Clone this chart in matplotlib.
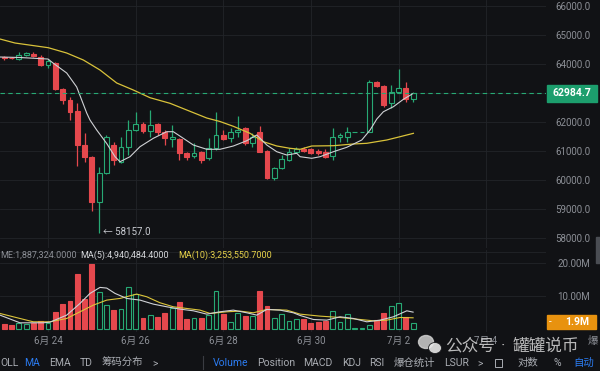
import numpy as np
import pandas as pd
import matplotlib
matplotlib.use("Agg")
import matplotlib.pyplot as plt
from matplotlib.patches import Rectangle, Ellipse

plt.rcParams['font.family'] = ['Roboto', 'Noto Sans CJK SC', 'DejaVu Sans']

#---------------------------------------#
# DATA  (4h candles starting 6/23 00:00)
#---------------------------------------#
start_time = pd.Timestamp("2024-06-23 00:00")
candle_step = pd.Timedelta(hours=4)

opens = [64230, 64210, 64165, 64310, 64345, 64230, 63966, 64025, 63140, 62760,
         62380, 61207, 60793, 59250, 60240, 61207, 60630, 61130, 61720, 61920,
         61700, 61920, 61665, 61410, 61400, 60940, 60830, 60980, 60750, 61095,
         61550, 61440, 61640, 61780, 61265, 61645, 61015, 60060, 60405, 60690,
         60980, 61070, 61060, 61000, 60950, 60820, 61490, 61500, 61665, 61665,
         61670, 63380, 63240, 62650, 63050, 63170, 62800]
highs = [64280, 64240, 64425, 64400, 64420, 64300, 64160, 64060, 63170, 62870,
         62655, 61620, 60830, 60450, 61560, 61320, 61490, 62070, 62355, 62010,
         62415, 61950, 61720, 61900, 61450, 60960, 61270, 61000, 61440, 62355,
         61725, 61780, 62210, 61840, 61620, 61860, 61040, 60440, 60860, 61095,
         61150, 61150, 61100, 61060, 61070, 61790, 61610, 61840, 61665, 61665,
         63450, 63430, 63260, 63280, 63820, 63390, 63000]
lows = [64150, 64170, 64140, 64290, 64240, 63940, 63850, 63110, 62620, 62070,
        60483, 60630, 58940, 58157, 60200, 60520, 60600, 60860, 61700, 61610,
        61490, 61550, 61210, 61150, 60690, 60690, 60750, 60590, 60690, 61050,
        61380, 61320, 61490, 61200, 61150, 60950, 60040, 60000, 60380, 60660,
        60950, 60950, 60880, 60860, 60760, 60690, 61320, 61320, 61665, 61665,
        61640, 63220, 62530, 62470, 63010, 62700, 62700]
closes = [64190, 64190, 64310, 64370, 64260, 63966, 64100, 63130, 62760, 62355,
          61207, 60783, 59250, 60230, 61490, 60690, 61130, 61720, 61920, 61700,
          61900, 61665, 61460, 61490, 60940, 60800, 60940, 60700, 61095, 61550,
          61410, 61645, 61725, 61265, 61470, 60980, 60060, 60405, 60715, 60980,
          61060, 60990, 60920, 60920, 60800, 61500, 61550, 61670, 61665, 61665,
          63380, 63240, 62590, 63050, 63170, 62800, 62984.7]
# volume in millions
volumes = [1.6, 1.35, 1.85, 1.6, 1.85, 2.5, 1.85, 5.1, 7.5, 8.5,
           16.6, 9.1, 19.5, 11.1, 7.3, 5.8, 6.1, 12.6, 10.5, 3.3,
           4.3, 3.8, 5.0, 6.5, 8.1, 3.1, 3.3, 3.3, 4.3, 11.5,
           4.5, 2.3, 5.0, 4.1, 4.0, 11.5, 7.0, 3.5, 4.5, 2.6,
           3.1, 3.0, 2.0, 2.3, 2.6, 5.5, 2.3, 4.5, 0.35, 0.35,
           1.35, 2.8, 4.8, 7.0, 8.0, 3.6, 1.887]

# moving average lines (candle position, value)
ma_fast_x = [-0.58, 2.16, 6.0, 6.68, 8.56, 9.93, 11.3, 11.75, 12.67, 14.04,
             15.18, 15.86, 17.23, 18.6, 20.42, 22.26, 23.16, 24.53, 25.9, 27.74,
             29.56, 31.38, 33.22, 34.59, 35.96, 37.33, 38.7, 40.07, 40.52, 42.12,
             43.26, 45.08, 46.92, 48.97, 50.11, 51.03, 51.93, 53.3, 54.67, 56.04]
ma_fast = [64241, 64224, 64172, 64035, 63690, 63207, 62310, 62069, 61724, 61259,
           60804, 60631, 60804, 61149, 61438, 61666, 61666, 61438, 61207, 61059,
           61059, 61173, 61355, 61552, 61207, 60976, 60862, 60921, 60804, 60749,
           60804, 60976, 61128, 61380, 61724, 62104, 62355, 62528, 62783, 62990]
ma_slow_x = [-0.58, 1.48, 6.04, 8.56, 10.84, 13.12, 15.41, 17.68, 19.97, 22.71,
             25.0, 27.74, 29.56, 31.38, 33.67, 35.49, 37.33, 39.15, 40.52, 42.12,
             45.08, 47.82, 49.66, 52.4, 54.22, 56.04]
ma_slow = [64862, 64724, 64562, 64379, 64138, 63793, 63345, 63104, 62838, 62645,
           62414, 62138, 62017, 61852, 61610, 61321, 61173, 61093, 61059, 61173,
           61183, 61242, 61266, 61380, 61494, 61610]

vol_ma5_x = [-0.58, 2.16, 5.32, 6.27, 8.56, 10.38, 11.75, 13.12, 14.04, 15.18,
             16.78, 18.6, 20.42, 22.26, 24.08, 25.9, 27.74, 29.56, 31.38, 33.22,
             34.59, 35.96, 37.78, 39.6, 40.52, 42.34, 44.18, 46.0, 47.82, 49.66,
             51.48, 53.3, 55.14, 56.0]
vol_ma5 = [4.3, 2.0, 2.0, 2.2, 4.3, 7.8, 10.8, 12.6, 12.4, 10.8,
           9.3, 8.8, 7.6, 6.8, 6.1, 5.6, 4.6, 5.3, 5.8, 5.0,
           4.3, 6.0, 5.8, 5.0, 4.2, 3.0, 2.8, 3.8, 3.3, 2.3,
           2.8, 3.8, 5.6, 5.2]
vol_ma10_x = [-0.58, 2.16, 3.99, 6.27, 8.56, 10.38, 12.21, 14.04, 15.86, 18.15,
              19.52, 21.34, 23.16, 25.0, 26.82, 28.19, 30.48, 32.3, 34.12, 35.96,
              38.7, 40.52, 43.26, 46.0, 48.74, 50.56, 52.4, 54.22, 56.0]
vol_ma10 = [4.8, 3.3, 2.3, 2.3, 3.3, 5.3, 7.3, 8.8, 9.3, 10.6,
            9.8, 8.0, 6.8, 6.3, 5.8, 4.8, 5.3, 5.5, 5.0, 6.0,
            5.8, 4.6, 4.0, 3.6, 3.0, 2.6, 2.8, 3.6, 3.5]

price_ticks = [58000, 59000, 60000, 61000, 62000, 63000, 64000, 65000, 66000]
volume_ticks = [10, 20]
date_ticks = ["2024-06-24", "2024-06-26", "2024-06-28", "2024-06-30", "2024-07-02", "2024-07-04"]
date_labels = ["6月 24", "6月 26", "6月 28", "6月 30", "7月 2", "7月 4"]
last_price = 62984.7
low_mark = 58157.0

#---------------------------------------#
# STYLE
#---------------------------------------#
BG = '#111215'
GRID = '#222429'
RED = '#e5484d'
GREEN = '#27a974'
AXTXT = '#8c8f96'
W = 600
H = 371


# pixel -> figure fraction helpers
def fx(x):
    return x / W


def fy(y):
    return 1 - y / H


fig = plt.figure(figsize=(6, 3.71), dpi=100, facecolor=BG)
ax = fig.add_axes([0, fy(248), 546 / W, 248 / H], facecolor=BG)
axv = fig.add_axes([0, fy(332), 546 / W, 82 / H], facecolor=BG, sharex=ax)

idx = np.arange(len(opens))
o = np.array(opens)
hi = np.array(highs)
lo = np.array(lows)
c = np.array(closes)
up = c >= o
cols = np.where(up, GREEN, RED)

# date ticks as candle positions
tick_pos = [(pd.Timestamp(d) - start_time) / candle_step for d in date_ticks]

#---------------------------------------#
# PRICE PANEL
#---------------------------------------#
ax.vlines(idx, lo, hi, colors=cols, lw=0.9, zorder=2)
ax.bar(idx, np.abs(c - o), width=0.66, bottom=np.minimum(o, c),
       color=np.where(up, BG, RED), edgecolor=cols, linewidth=0.8, zorder=3)
ax.plot(ma_slow_x, ma_slow, color='#d9c23a', lw=0.9, zorder=4)
ax.plot(ma_fast_x, ma_fast, color='#cfd1d4', lw=0.8, zorder=4)
ax.axhline(last_price, color=GREEN, lw=0.8, ls=(0, (4, 3)), zorder=5)

ax.set_xlim(-0.575, 74.2)
ax.set_ylim(57656, 66207)
ax.set_yticks(price_ticks)
# the 63000 label sits under the last-price box
ax.set_yticklabels(["" if abs(p - last_price) < 500 else f"{p:.1f}" for p in price_ticks])
ax.set_xticks(tick_pos)
ax.yaxis.tick_right()
ax.tick_params(axis='y', length=0, pad=6.5, labelsize=7, labelcolor=AXTXT)
ax.tick_params(axis='x', length=0, labelbottom=False)
ax.grid(True, color=GRID, lw=0.6)
ax.set_axisbelow(True)
for s in ax.spines.values():
    s.set_visible(False)

#---------------------------------------#
# VOLUME PANEL
#---------------------------------------#
v = np.array(volumes)
axv.bar(idx, v, width=0.66, color=np.where(up, BG, RED), edgecolor=cols,
        linewidth=0.8, zorder=3)
axv.plot(vol_ma10_x, vol_ma10, color='#dcc53a', lw=0.8, zorder=4)
axv.plot(vol_ma5_x, vol_ma5, color='#d0d2d6', lw=0.8, zorder=4)
axv.set_ylim(-0.75, 23.8)
axv.set_yticks(volume_ticks)
axv.set_yticklabels([f"{t:.2f}M" for t in volume_ticks])
axv.yaxis.tick_right()
axv.tick_params(axis='y', length=0, pad=8, labelsize=7, labelcolor=AXTXT)
axv.set_xticks(tick_pos)
axv.set_xticklabels(date_labels)
axv.tick_params(axis='x', length=0, pad=2.5, labelsize=7, labelcolor=AXTXT)
axv.grid(True, color=GRID, lw=0.6)
axv.axhline(23.2, color=GRID, lw=0.6)
axv.set_axisbelow(True)
for s in axv.spines.values():
    s.set_visible(False)

#---------------------------------------#
# OVERLAY LABELS / BOXES
#---------------------------------------#
# current price box
fig.add_artist(Rectangle((fx(547), fy(102)), 50 / W, 17 / H, transform=fig.transFigure,
                         color='#1c9e6d', zorder=5))
fig.text(fx(572), fy(93.5), f"{last_price:.1f}", color='white', fontsize=7.5,
         fontweight='bold', ha='center', va='center', zorder=6)
# current volume box
fig.add_artist(Rectangle((fx(547), fy(329)), 49 / W, 14 / H, transform=fig.transFigure,
                         color='#e8920f', zorder=5))
fig.text(fx(549), fy(322), "-", color='white', fontsize=7, ha='left', va='center', zorder=6)
fig.text(fx(577), fy(322), "1.9M", color='white', fontsize=7.5, fontweight='bold',
         ha='center', va='center', zorder=6)
# scroll handle
fig.add_artist(Rectangle((fx(596), fy(263)), 4 / W, 26 / H, transform=fig.transFigure,
                         color='#4a4d53', zorder=5))

# low marker
fig.text(fx(103), fy(232), f"← {low_mark:.1f}", color='#c9ccd2', fontsize=7,
         ha='left', va='center')

# volume header
fig.text(fx(0), fy(255), "ME:1,887,324.0000", color=AXTXT, fontsize=6.5, va='center')
fig.text(fx(80), fy(255), "MA(5):4,940,484.4000", color='#d6d8dc', fontsize=6.5, va='center')
fig.text(fx(178), fy(255), "MA(10):3,253,550.7000", color='#e8d34a', fontsize=6.5, va='center')

# bottom toolbar
BLUE = '#2b7bf0'
TOOL = '#a9acb2'
toolbar = [("OLL", 0, TOOL), ("MA", 24, BLUE), ("EMA", 49, TOOL), ("TD", 80, TOOL),
           ("筹码分布", 102, TOOL), (">", 152, TOOL), ("Volume", 213, BLUE),
           ("Position", 257, TOOL), ("MACD", 303, TOOL), ("KDJ", 342, TOOL),
           ("RSI", 369, TOOL), ("爆仓统计", 394, TOOL), ("LSUR", 444, TOOL),
           (">", 477, TOOL), ("对数", 518, TOOL), ("%", 553, TOOL), ("自动", 573, BLUE)]
for label, x, col in toolbar:
    fig.text(fx(x), fy(363), label, color=col, fontsize=7.5, ha='left', va='center')
fig.add_artist(plt.Line2D([fx(203), fx(203)], [fy(356), fy(369)], color='#3a3c42',
                          lw=0.8, transform=fig.transFigure))
fig.add_artist(Rectangle((fx(495), fy(367)), 7 / W, 8 / H, transform=fig.transFigure,
                         fill=False, edgecolor=TOOL, lw=0.7))
fig.text(fx(588), fy(341), "爆", color=AXTXT, fontsize=7.5, ha='left', va='center')

# watermark
fig.add_artist(Ellipse((fx(426), fy(342)), 15 / W, 13 / H, transform=fig.transFigure,
                       color='#cfcfcf', alpha=0.85, zorder=7))
fig.add_artist(Ellipse((fx(435), fy(348)), 13 / W, 11 / H, transform=fig.transFigure,
                       color='#e6e6e6', alpha=0.9, ec='#111215', lw=0.6, zorder=7))
fig.text(fx(445), fy(346), "公众号", color='#d8d8d8', alpha=0.85,
         fontsize=12, ha='left', va='center', zorder=8)
fig.text(fx(503), fy(346), "·", color='#d8d8d8', alpha=0.85,
         fontsize=12, ha='center', va='center', zorder=8)
fig.text(fx(513), fy(346), "罐罐说币", color='#d8d8d8', alpha=0.85,
         fontsize=12, ha='left', va='center', zorder=8)

fig.savefig("out.png", dpi=100, facecolor=BG)
